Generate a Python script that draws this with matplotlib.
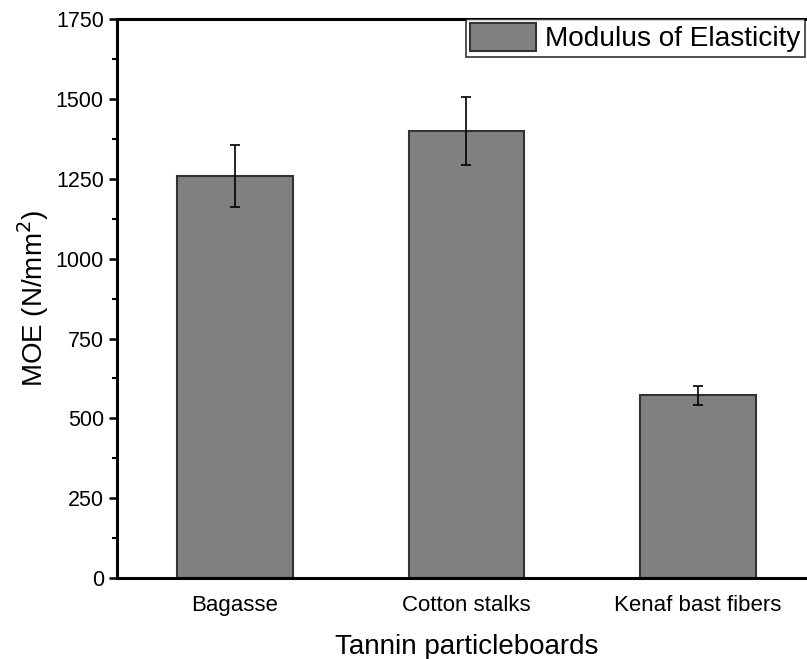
import numpy as np
import matplotlib.pyplot as plt

plt.rcParams['font.family'] = ['Liberation Sans', 'DejaVu Sans']

boards = ['Bagasse', 'Cotton stalks', 'Kenaf bast fibers']
moe = [1260, 1400, 572]
moe_err = [97, 107, 30]
y_ticks = [0, 250, 500, 750, 1000, 1250, 1500, 1750]

fig = plt.figure(figsize=(8.07, 6.59), dpi=100)
ax = fig.add_axes([0.145, 0.1229, 0.866, 0.848])

x = np.arange(1, len(boards) + 1)
ax.bar(x, moe, width=0.5, color='#808080', edgecolor='#333333', linewidth=1.5,
       label='Modulus of Elasticity')
ax.errorbar(x, moe, yerr=moe_err, fmt='none', ecolor='black', elinewidth=1.2,
            capsize=3.6, capthick=1.2)

ax.set_xlim(0.49, 3.51)
ax.set_ylim(0, 1750)
ax.set_xticks(x)
ax.set_xticklabels(boards, fontsize=16)
ax.set_yticks(y_ticks)
ax.set_yticks(np.arange(125, 1750, 250), minor=True)
ax.tick_params(axis='y', labelsize=15.5, width=1.8, length=6, direction='out')
ax.tick_params(axis='y', which='minor', width=1.5, length=3.5)
ax.tick_params(axis='x', length=0, pad=12)

for s in ax.spines.values():
    s.set_linewidth(2.2)

ax.set_xlabel('Tannin particleboards', fontsize=20, labelpad=13)
ax.set_ylabel('MOE (N/mm$^2$)', fontsize=20, labelpad=3)

# legend box hangs off the right edge of the figure
leg = ax.legend(loc='upper left', bbox_to_anchor=(466 / 807, 1 - 19 / 659),
                bbox_transform=fig.transFigure, fontsize=20.2, frameon=True,
                fancybox=False, edgecolor='black', handlelength=2.35,
                handleheight=1.13, borderpad=0.15, borderaxespad=0,
                handletextpad=0.33)
leg.get_frame().set_linewidth(1.2)

fig.savefig('out.png', dpi=100)
